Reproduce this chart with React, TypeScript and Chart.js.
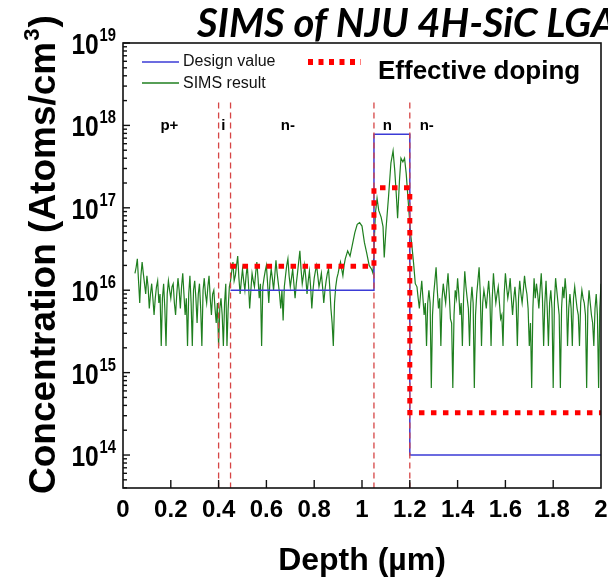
import React, { useEffect, useRef } from "react";
import Chart from "chart.js/auto";

// ---------- data ----------
const xTickValues = [0, 0.2, 0.4, 0.6, 0.8, 1, 1.2, 1.4, 1.6, 1.8, 2];
const xTickLabels = ["0", "0.2", "0.4", "0.6", "0.8", "1", "1.2", "1.4", "1.6", "1.8", "2"];
const yDecadeExponents = [14, 15, 16, 17, 18, 19];

const designDepth = [0.45, 1.05, 1.05, 1.2, 1.2, 2.0];
const designConc = [1e16, 1e16, 7.8e17, 7.8e17, 1e14, 1e14];

const effDepth = [0.45, 1.05, 1.05, 1.2, 1.2, 2.0];
const effConc = [1.95e16, 1.95e16, 1.75e17, 1.75e17, 3.25e14, 3.25e14];

const boundaryDepths = [0.4, 0.45, 1.05, 1.2];
const boundaryTopConc = 1.9e18;

const regionLabels = ["p+", "i", "n-", "n", "n-"];
const regionDepths = [0.194, 0.42, 0.69, 1.106, 1.271];
const regionConc = 1e18;

const simsDepth = [
  0.050, 0.055, 0.060, 0.065, 0.070, 0.075, 0.080, 0.085, 0.090, 0.095,
  0.100, 0.105, 0.110, 0.115, 0.120, 0.125, 0.130, 0.135, 0.140, 0.145,
  0.150, 0.155, 0.160, 0.165, 0.170, 0.175, 0.180, 0.185, 0.190, 0.195,
  0.200, 0.205, 0.210, 0.215, 0.220, 0.225, 0.230, 0.235, 0.240, 0.245,
  0.250, 0.255, 0.260, 0.265, 0.270, 0.275, 0.280, 0.285, 0.290, 0.295,
  0.300, 0.305, 0.310, 0.315, 0.320, 0.325, 0.330, 0.335, 0.340, 0.345,
  0.350, 0.355, 0.360, 0.365, 0.370, 0.375, 0.380, 0.385, 0.390, 0.395,
  0.400, 0.405, 0.410, 0.415, 0.420, 0.425, 0.430, 0.435, 0.440, 0.445,
  0.450, 0.455, 0.460, 0.465, 0.470, 0.475, 0.480, 0.485, 0.490, 0.495,
  0.500, 0.505, 0.510, 0.515, 0.520, 0.525, 0.530, 0.535, 0.540, 0.545,
  0.550, 0.555, 0.560, 0.565, 0.570, 0.575, 0.580, 0.585, 0.590, 0.595,
  0.600, 0.605, 0.610, 0.615, 0.620, 0.625, 0.630, 0.635, 0.640, 0.645,
  0.650, 0.655, 0.660, 0.665, 0.670, 0.675, 0.680, 0.685, 0.690, 0.695,
  0.700, 0.705, 0.710, 0.715, 0.720, 0.725, 0.730, 0.735, 0.740, 0.745,
  0.750, 0.755, 0.760, 0.765, 0.770, 0.775, 0.780, 0.785, 0.790, 0.795,
  0.800, 0.805, 0.810, 0.815, 0.820, 0.825, 0.830, 0.835, 0.840, 0.845,
  0.850, 0.855, 0.860, 0.865, 0.870, 0.875, 0.880, 0.885, 0.890, 0.895,
  0.900, 0.905, 0.910, 0.915, 0.920, 0.925, 0.930, 0.940, 0.950, 0.960,
  0.970, 0.980, 0.990, 1.000, 1.010, 1.020, 1.030, 1.040, 1.046, 1.056,
  1.063, 1.070, 1.080, 1.088, 1.093, 1.100, 1.111, 1.121, 1.130, 1.137,
  1.144, 1.149, 1.157, 1.163, 1.171, 1.178, 1.185, 1.195, 1.202, 1.209,
  1.216, 1.223, 1.230, 1.235, 1.240, 1.245, 1.250, 1.255, 1.260, 1.265,
  1.270, 1.275, 1.280, 1.285, 1.290, 1.295, 1.300, 1.305, 1.310, 1.315,
  1.320, 1.325, 1.330, 1.335, 1.340, 1.345, 1.350, 1.355, 1.360, 1.365,
  1.370, 1.375, 1.380, 1.385, 1.390, 1.395, 1.400, 1.405, 1.410, 1.415,
  1.420, 1.425, 1.430, 1.435, 1.440, 1.445, 1.450, 1.455, 1.460, 1.465,
  1.470, 1.475, 1.480, 1.485, 1.490, 1.495, 1.500, 1.505, 1.510, 1.515,
  1.520, 1.525, 1.530, 1.535, 1.540, 1.545, 1.550, 1.555, 1.560, 1.565,
  1.570, 1.575, 1.580, 1.585, 1.590, 1.595, 1.600, 1.605, 1.610, 1.615,
  1.620, 1.625, 1.630, 1.635, 1.640, 1.645, 1.650, 1.655, 1.660, 1.665,
  1.670, 1.675, 1.680, 1.685, 1.690, 1.695, 1.700, 1.705, 1.710, 1.715,
  1.720, 1.725, 1.730, 1.735, 1.740, 1.745, 1.750, 1.755, 1.760, 1.765,
  1.770, 1.775, 1.780, 1.785, 1.790, 1.795, 1.800, 1.805, 1.810, 1.815,
  1.820, 1.825, 1.830, 1.835, 1.840, 1.845, 1.850, 1.855, 1.860, 1.865,
  1.870, 1.875, 1.880, 1.885, 1.890, 1.895, 1.900, 1.905, 1.910, 1.915,
  1.920, 1.925, 1.930, 1.935, 1.940, 1.945, 1.950, 1.955, 1.960, 1.965,
  1.970, 1.975, 1.980, 1.985, 1.990, 1.995, 2.000,
];
const simsConc = [
  1.6e16, 1.9e16, 2.4e16, 1.3e16, 7e15, 1.5e16, 2.2e16, 1.6e16, 1.2e16, 9e15,
  1.5e16, 1.1e16, 6e15, 9e15, 1.2e16, 8e15, 5e15, 8e15, 1.1e16, 1.3e16,
  7e15, 9e15, 2.1e15, 8e15, 1.2e16, 6e15, 2.1e15, 9e15, 1.3e16, 1.0e16,
  8e15, 1.1e16, 1.2e16, 7e15, 5e15, 9e15, 1.4e16, 1.0e16, 6e15, 1.1e16,
  1.6e16, 9e15, 5e15, 8e15, 2.1e15, 9e15, 1.5e16, 7e15, 2.1e15, 1.0e16,
  1.3e16, 8e15, 4e15, 9e15, 1.2e16, 6e15, 2.1e15, 1.0e16, 1.4e16, 9e15,
  7e15, 1.1e16, 1.5e16, 8e15, 5e15, 9e15, 1.0e16, 6e15, 4e15, 7e15,
  2.1e15, 6e15, 8e15, 5e15, 2.1e15, 7e15, 1.2e16, 2.1e15, 6e15, 1.1e16,
  1.3e16, 1.7e16, 2.2e16, 1.3e16, 1.5e16, 2.0e16, 2.6e16, 1.4e16, 9e15, 1.3e16,
  1.8e16, 1.3e16, 1.0e16, 1.5e16, 2.0e16, 1.2e16, 6e15, 1.0e16, 1.6e16, 1.3e16,
  1.1e16, 1.6e16, 2.2e16, 1.4e16, 8e15, 1.2e16, 2.1e15, 1.1e16, 1.4e16, 1.7e16,
  2.0e16, 1.2e16, 7e15, 1.3e16, 1.8e16, 1.4e16, 1.0e16, 1.5e16, 2.3e16, 1.6e16,
  1.2e16, 9e15, 6e15, 1.0e16, 4.3e15, 1.1e16, 1.5e16, 2.0e16, 2.4e16, 1.5e16,
  1.1e16, 1.4e16, 1.8e16, 1.2e16, 8e15, 1.2e16, 1.6e16, 2.2e16, 3.0e16, 1.8e16,
  1.2e16, 1.5e16, 2.0e16, 1.4e16, 9e15, 1.3e16, 1.7e16, 1.1e16, 6e15, 1.0e16,
  1.4e16, 1.7e16, 2.0e16, 1.5e16, 1.1e16, 1.3e16, 1.6e16, 1.1e16, 7e15, 1.0e16,
  1.3e16, 1.6e16, 1.8e16, 1.1e16, 6e15, 4e15, 2.1e15, 7e15, 1.1e16, 1.4e16,
  1.6e16, 1.9e16, 2.2e16, 1.8e16, 1.5e16, 2.0e16, 2.4e16, 3.0e16, 2.6e16, 3.6e16,
  5.0e16, 6.3e16, 6.6e16, 6.0e16, 3.8e16, 2.8e16, 2.0e16, 1.8e16, 1.6e16, 8.5e16,
  1.3e17, 9.3e16, 7.7e16, 5.9e16, 2.5e16, 5.3e16, 1.36e17, 3.5e17, 4.9e17, 2.85e17,
  1.36e17, 7.5e16, 2.2e17, 4.0e17, 3.6e17, 4.0e17, 2.6e17, 1.03e17, 5.3e16, 3.4e16,
  2.1e16, 1.2e16, 1.1e16, 8e15, 6e15, 9e15, 1.3e16, 8e15, 5e15, 7e15,
  2.1e15, 7e15, 1.0e16, 7e15, 6.5e14, 5e15, 9e15, 1.3e16, 1.9e16, 1.0e16,
  6e15, 8e15, 2.1e15, 8e15, 1.2e16, 9e15, 7e15, 1.1e16, 1.6e16, 9e15,
  4.5e15, 4e15, 6.5e14, 5e15, 1.0e16, 8e15, 1.4e16, 9e15, 5e15, 7e15,
  2.1e15, 8e15, 1.7e16, 1.1e16, 8e15, 6e15, 2.1e15, 7e15, 1.1e16, 7e15,
  6.5e14, 5e15, 9e15, 1.3e16, 1.9e16, 9e15, 2.1e15, 7e15, 1.0e16, 8e15,
  6e15, 9e15, 1.3e16, 8e15, 2.1e15, 8e15, 1.6e16, 1.0e16, 7e15, 9e15,
  1.1e16, 7e15, 4.5e15, 5e15, 2.1e15, 9e15, 1.6e16, 1.1e16, 8e15, 1.0e16,
  1.4e16, 8e15, 5e15, 8e15, 1.1e16, 7e15, 2.1e15, 8e15, 1.3e16, 9e15,
  7e15, 1.0e16, 1.5e16, 1.1e16, 9e15, 6e15, 2.1e15, 4e15, 6.5e14, 6e15,
  1.4e16, 8e15, 1.2e16, 9e15, 6e15, 1.0e16, 1.6e16, 8e15, 2.1e15, 7e15,
  1.3e16, 6e15, 2.1e15, 7e15, 1.0e16, 6e15, 6.5e14, 7e15, 1.4e16, 1.0e16,
  7e15, 5e15, 6.5e14, 6e15, 1.1e16, 8e15, 1.4e16, 9e15, 2.1e15, 6e15,
  9e15, 6e15, 2.1e15, 8e15, 1.1e16, 8e15, 6e15, 5e15, 2.1e15, 7e15,
  1.0e16, 8e15, 7e15, 5e15, 6.5e14, 6e15, 1.0e16, 7e15, 5e15, 4e15,
  2.1e15, 6e15, 9e15, 5e15, 6.5e14, 6e15, 1.2e16,
];

// ---------- styling ----------
const SANS = '"Liberation Sans", Arial, sans-serif';
const BLUE = "#3b3bd6";
const GREEN = "#1f7f1f";
const RED = "#ff0000";
const VLINE = "#d64545";

const pts = (xs: number[], ys: number[]) => xs.map((x, i) => ({ x, y: ys[i] }));

const decorPlugin = {
  id: "decor",
  afterDraw(chart: any) {
    const { ctx, chartArea: ca } = chart;
    const xs = chart.scales.x;
    const ys = chart.scales.y;
    ctx.save();
    ctx.fillStyle = "#000";
    ctx.strokeStyle = "#111";

    // frame
    ctx.lineWidth = 1.6;
    ctx.setLineDash([]);
    ctx.strokeRect(ca.left, ca.top, ca.right - ca.left, ca.bottom - ca.top);

    // x ticks
    ctx.lineWidth = 1.4;
    xTickValues.forEach((v, i) => {
      const px = xs.getPixelForValue(v);
      if (i > 0 && i < xTickValues.length - 1) {
        ctx.beginPath();
        ctx.moveTo(px, ca.bottom);
        ctx.lineTo(px, ca.bottom - 8);
        ctx.stroke();
      }
      ctx.font = `bold 24px ${SANS}`;
      ctx.textAlign = "center";
      ctx.textBaseline = "alphabetic";
      ctx.fillText(xTickLabels[i], px, ca.bottom + 29);
    });

    // y ticks (major + minor)
    const yMin = ys.min;
    const yMax = ys.max;
    for (let e = 13; e <= 19; e++) {
      for (let m = 1; m <= 9; m++) {
        const v = m * Math.pow(10, e);
        if (v < yMin * 0.999 || v > yMax * 1.001) continue;
        const py = ys.getPixelForValue(v);
        ctx.beginPath();
        ctx.moveTo(ca.left, py);
        ctx.lineTo(ca.left + (m === 1 ? 7 : 4), py);
        ctx.stroke();
      }
    }
    // y labels 10^n (condensed bold)
    const squeeze = 0.82;
    yDecadeExponents.forEach((e) => {
      const py = ys.getPixelForValue(Math.pow(10, e));
      const right = (ca.left - 7) / squeeze;
      ctx.save();
      ctx.scale(squeeze, 1);
      ctx.textAlign = "right";
      ctx.textBaseline = "alphabetic";
      ctx.font = `bold 18px ${SANS}`;
      const sup = String(e);
      const sw = ctx.measureText(sup).width;
      ctx.fillText(sup, right, py - 2);
      ctx.font = `bold 30px ${SANS}`;
      ctx.fillText("10", right - sw - 1, py + 11);
      ctx.restore();
    });

    // region labels
    ctx.font = `bold 15px ${SANS}`;
    ctx.textAlign = "center";
    ctx.textBaseline = "middle";
    regionLabels.forEach((t, i) => {
      ctx.fillText(t, xs.getPixelForValue(regionDepths[i]), ys.getPixelForValue(regionConc));
    });

    // legend
    ctx.lineWidth = 1.5;
    ctx.strokeStyle = BLUE;
    ctx.beginPath();
    ctx.moveTo(142, 62);
    ctx.lineTo(179, 62);
    ctx.stroke();
    ctx.strokeStyle = GREEN;
    ctx.beginPath();
    ctx.moveTo(142, 83);
    ctx.lineTo(179, 83);
    ctx.stroke();
    ctx.font = `16px ${SANS}`;
    ctx.textAlign = "left";
    ctx.textBaseline = "middle";
    ctx.fillStyle = "#111";
    ctx.fillText("Design value", 183, 62);
    ctx.fillText("SIMS result", 183, 84);
    ctx.strokeStyle = RED;
    ctx.lineWidth = 6;
    ctx.setLineDash([5, 5.5]);
    ctx.beginPath();
    ctx.moveTo(308, 62);
    ctx.lineTo(361, 62);
    ctx.stroke();
    ctx.setLineDash([]);
    ctx.fillStyle = "#000";
    ctx.font = `bold 26px ${SANS}`;
    ctx.textBaseline = "alphabetic";
    ctx.fillText("Effective doping", 378, 79);

    // chart title (italic, partly cut off at the right)
    ctx.font = `italic bold 40px Lato, "Open Sans", sans-serif`;
    ctx.textAlign = "left";
    ctx.fillText("SIMS of NJU 4H-SiC LGAD", 197, 37);

    // x title
    ctx.font = `bold 32px ${SANS}`;
    ctx.textAlign = "center";
    ctx.fillText("Depth (\u00b5m)", 362, 570);

    // y title (rotated) with superscript 3
    ctx.save();
    ctx.translate(55, 494);
    ctx.rotate(-Math.PI / 2);
    ctx.textAlign = "left";
    ctx.font = `bold 37px ${SANS}`;
    const main = "Concentration (Atoms/cm";
    ctx.fillText(main, 0, 0);
    const mw = ctx.measureText(main).width;
    ctx.font = `bold 22px ${SANS}`;
    ctx.fillText("3", mw + 1, -16);
    const tw = ctx.measureText("3").width;
    ctx.font = `bold 37px ${SANS}`;
    ctx.fillText(")", mw + tw + 2, 0);
    ctx.restore();

    ctx.restore();
  },
};

export default function App() {
  const ref = useRef<HTMLCanvasElement | null>(null);
  useEffect(() => {
    document.body.style.margin = "0";
    const canvas = ref.current;
    if (!canvas) return;
    const vlineSets = boundaryDepths.map((d) => ({
      label: "boundary",
      data: [
        { x: d, y: boundaryTopConc },
        { x: d, y: 1e13 },
      ],
      borderColor: VLINE,
      borderWidth: 1.3,
      borderDash: [6, 4],
      pointRadius: 0,
      order: 1,
    }));
    const chart = new Chart(canvas, {
      type: "line",
      data: {
        datasets: [
          {
            label: "Effective doping",
            data: pts(effDepth, effConc),
            borderColor: RED,
            borderWidth: 5,
            borderDash: [5.5, 6.5],
            borderCapStyle: "butt",
            pointRadius: 0,
            order: 0,
          },
          ...vlineSets,
          {
            label: "Design value",
            data: pts(designDepth, designConc),
            borderColor: BLUE,
            borderWidth: 1.5,
            pointRadius: 0,
            order: 2,
          },
          {
            label: "SIMS result",
            data: pts(simsDepth, simsConc),
            borderColor: GREEN,
            borderWidth: 1.2,
            pointRadius: 0,
            order: 3,
          },
        ],
      },
      options: {
        responsive: false,
        animation: false,
        parsing: false as any,
        layout: { padding: { left: 123, right: 7, top: 43, bottom: 92 } },
        plugins: { legend: { display: false }, tooltip: { enabled: false }, title: { display: false } },
        elements: { line: { tension: 0 } },
        scales: {
          x: { type: "linear", min: 0, max: 2, display: false },
          y: { type: "logarithmic", min: 3.98e13, max: 1e19, display: false },
        },
      },
      plugins: [decorPlugin],
    });
    return () => chart.destroy();
  }, []);
  return (
    <div style={{ width: 608, height: 580, background: "#fff" }}>
      <canvas ref={ref} width={608} height={580} style={{ display: "block" }} />
    </div>
  );
}
